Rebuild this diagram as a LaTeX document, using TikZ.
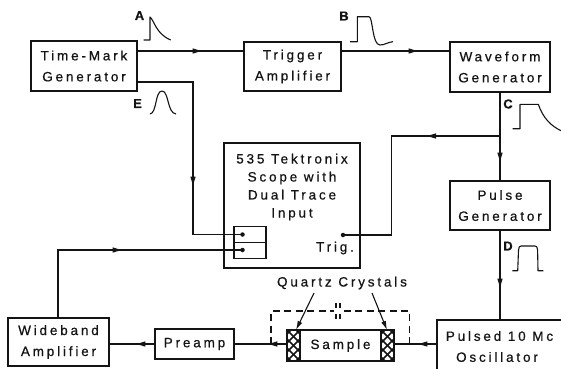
\documentclass[tikz,border=0pt]{standalone}
\usepackage{fontspec}
\setmainfont[LetterSpace=21,FakeBold=0.6]{Liberation Sans}
\usetikzlibrary{arrows.meta,decorations.markings}
\definecolor{ink}{gray}{0.08}
\tikzset{
  box/.style={draw=ink,line width=1.2pt,inner sep=0pt,align=center,text=ink,font=\fontsize{13.5}{21}\selectfont},
  lbl/.style={inner sep=0pt,align=center,text=ink,font=\fontsize{13.5}{18}\selectfont},
  tag/.style={inner sep=0pt,text=ink,font=\bfseries\fontsize{13}{14}\selectfont},
  wire/.style={draw=ink,line width=1.2pt},
  pulse/.style={draw=ink,line width=1.1pt,line join=round},
  dashbox/.style={draw=ink,line width=1.1pt,dash pattern=on 7pt off 4.5pt},
  dotmark/.style={circle,fill=ink,inner sep=0pt,minimum size=4.5pt},
  tipat/.style={postaction={decorate},decoration={markings,mark=at position #1 with {\arrow{Latex[length=11pt,width=5.5pt]}}}},
  crystal/.style={draw=ink,line width=1.4pt,minimum width=13pt,minimum height=31pt,inner sep=0pt,fill=white,
    path picture={
      \foreach \k in {-6,...,6}{
        \draw[ink,line width=1.5pt] ([xshift=\k*9pt-30pt,yshift=-30pt]path picture bounding box.center) -- ++(60pt,60pt);
        \draw[ink,line width=1.5pt] ([xshift=\k*9pt-30pt,yshift=30pt]path picture bounding box.center) -- ++(60pt,-60pt);
      }}},
}
\begin{document}
\begin{tikzpicture}[x=1pt,y=-1pt]
\useasboundingbox (0,0) rectangle (561,368);
\clip (0,0) rectangle (561,368);
\fill[white] (0,0) rectangle (561,368);
% blocks
\node[box,minimum width=106pt,minimum height=50pt] (tm) at (84,66) {Time-Mark\\Generator};
\node[box,minimum width=97pt,minimum height=49pt] (trig) at (292.5,66.5) {Trigger\\Amplifier};
\node[box,minimum width=100pt,minimum height=50pt] (wave) at (500,67) {Waveform\\Generator};
\node[box,minimum width=100pt,minimum height=49pt] (pgen) at (500,205.5) {Pulse\\Generator};
\node[box,minimum width=136pt,minimum height=125pt] (scope) at (292,205.5) {};
\node[lbl] (scopetxt) at (292,187) {535 Tektronix\\Scope with\\Dual Trace\\Input};
\node[lbl,anchor=center] (trigtxt) at (335,248) {Trig.};
\node[box,minimum width=32pt,minimum height=16pt] (ch1) at (250,234.8) {};
\node[box,minimum width=32pt,minimum height=16pt] (ch2) at (250,250.8) {};
\node[box,minimum width=101pt,minimum height=48pt] (wide) at (58.5,342) {Wideband\\Amplifier};
\node[box,minimum width=79pt,minimum height=30pt] (pre) at (194.5,344) {Preamp};
\node[box,minimum width=107pt,minimum height=31pt] (sample) at (340.5,345.5) {Sample};
\node[crystal] (cl) at (293.5,345.5) {};
\node[crystal] (cr) at (387.5,345.5) {};
\node[box,minimum width=140pt,minimum height=60pt] (osc) at (507,350) {};
\node[lbl] (osc1) at (499.5,336) {Pulsed 10 Mc};
\node[lbl] (osc2) at (497,357) {Oscillator};
\node[lbl] (qc) at (342,283) {Quartz Crystals};
% terminals
\node[dotmark] (d1) at (242.5,234.5) {};
\node[dotmark] (d2) at (242.5,250) {};
\node[dotmark] (d3) at (343,235) {};
% routing points
\coordinate (e1) at (193,82);
\coordinate (e2) at (193,234.5);
\coordinate (j) at (500,136);
\coordinate (t1) at (391.5,136);
\coordinate (t2) at (391.5,235);
\coordinate (w1) at (58,250);
\coordinate (dr) at (409.5,344);
\coordinate (dl) at (271,344);
\coordinate (l1) at (314,293);
\coordinate (l2) at (296,330);
\coordinate (r1) at (372,293);
\coordinate (r2) at (387,330);
% connectors
\draw[wire,tipat=66pt] ([yshift=15pt]tm.east) -- ([yshift=15pt]tm.east -| trig.west);
\draw[wire,tipat=78pt] ([yshift=15.5pt]trig.east) -- ([yshift=15.5pt]trig.east -| wave.west);
\draw[wire,tipat=71pt] (wave.south) -- (pgen.north);
\draw[wire,tipat=75pt] (j) -- (t1) -- (t2) -- (d3.center);
\draw[wire,tipat=161pt] ([yshift=-16pt]tm.east) -- (e1) -- (e2) -- (d1.center);
\draw[wire,tipat=133pt] (wide.north -| w1) -- (w1) -- (d2.center);
\draw[wire,tipat=59pt] (pgen.south) -- (osc.north -| pgen.south);
\draw[wire,tipat=20pt] (pre.west) -- (wide.east |- pre.west);
\draw[wire,tipat=20pt] (cl.west |- pre.east) -- (pre.east);
\draw[wire,tipat=20pt] (osc.west |- dr) -- (cr.east |- dr);
% dashed shield
\draw[dashbox] (dl) -- (271,311) -- (334,311);
\draw[dashbox] (dr) -- (409.5,311) -- (342,311);
\draw[pulse] (336,303) -- (336,308) (340,303) -- (340,308) (336,314) -- (336,319) (340,314) -- (340,319);
% leaders
\draw[draw=ink,line width=1.1pt,-{Latex[length=9pt,width=5pt]}] (l1) -- (l2);
\draw[draw=ink,line width=1.1pt,-{Latex[length=9pt,width=5pt]}] (r1) -- (r2);
% waveforms
\draw[pulse] (143.5,40) -- (150,40) -- (150,17) .. controls (154,20) and (156,34) .. (170.7,40);
\draw[pulse] (150,114) .. controls (157,113) and (155,91) .. (162,91) .. controls (169,91) and (167,113) .. (176,114);
\draw[pulse] (350,41.7) -- (357.3,41.7) -- (357.3,16.7) -- (369,16.7) .. controls (373,17) and (372,45) .. (380,45) .. controls (385,45) and (388,42) .. (393,41.7);
\draw[pulse] (512.7,128.7) -- (520,128.7) -- (520,104.3) -- (538.3,104.3) .. controls (543,118) and (551,126) .. (561,130.7);
\draw[pulse] (512.3,270.7) -- (517.7,270.7) -- (518.5,250) .. controls (518.7,247) and (519.5,246) .. (521,246) -- (535,246) .. controls (536.5,246) and (537.5,247) .. (537.6,250) -- (538,270.7) -- (543.3,270.7);
% tags
\node[tag] (ta) at (139.5,15.5) {A};
\node[tag] (te) at (137.5,103.5) {E};
\node[tag] (tb) at (344,16) {B};
\node[tag] (tc) at (508,104) {C};
\node[tag] (td) at (508,246) {D};
\end{tikzpicture}
\end{document}
